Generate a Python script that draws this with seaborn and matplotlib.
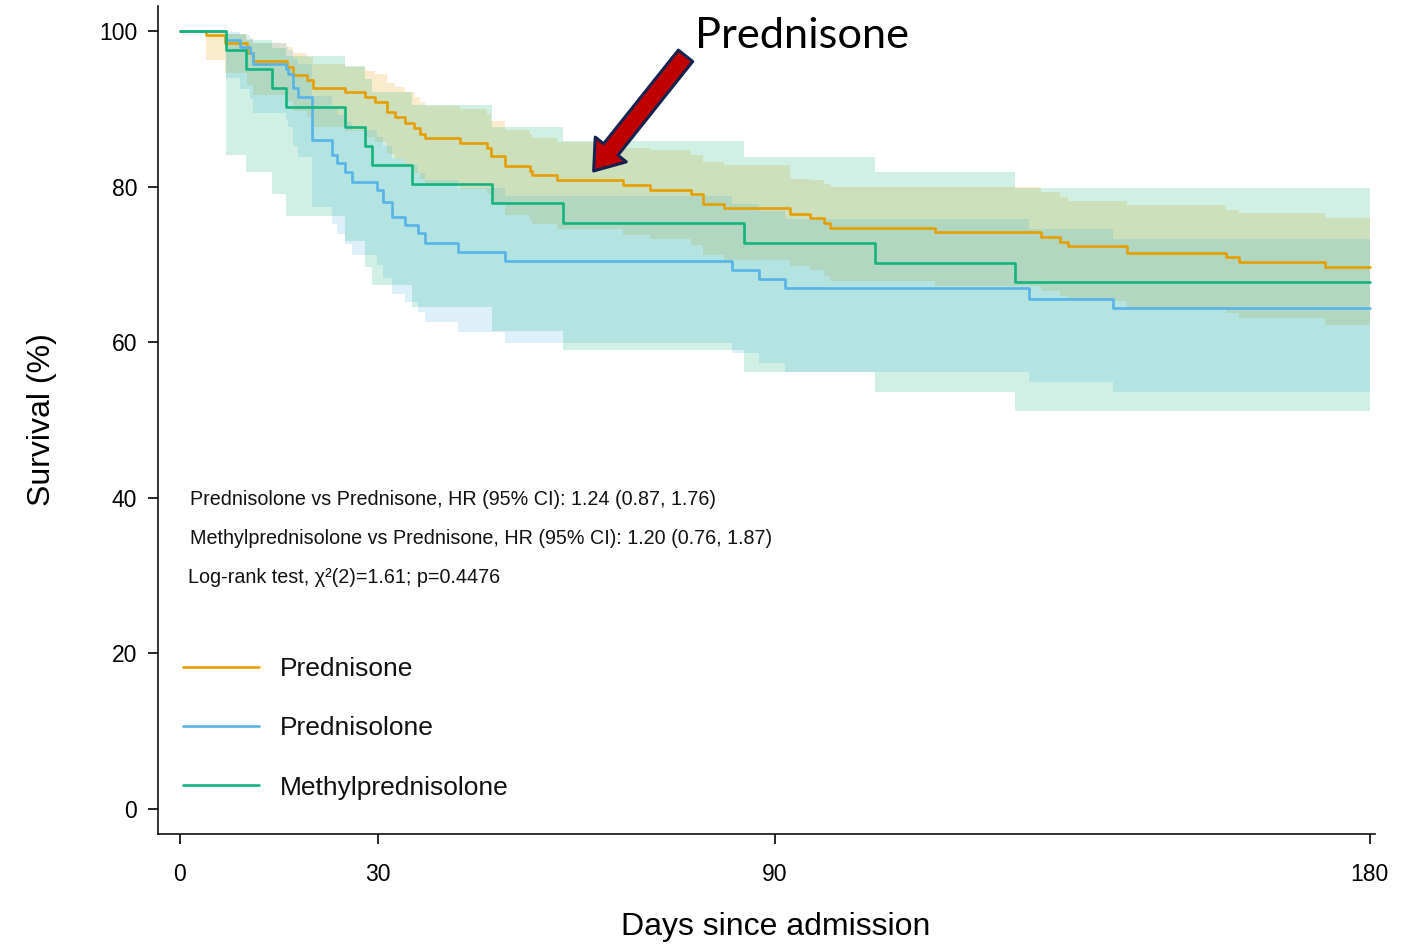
import numpy as np
import pandas as pd
import matplotlib
matplotlib.use("Agg")
import matplotlib.pyplot as plt
import seaborn as sns

# ---------------- data ----------------
groups = ["Prednisone", "Prednisolone", "Methylprednisolone"]
follow_up_end = 180

pred_time = [0, 3.9, 6.8, 10.2, 11.0, 16.2, 17.1, 19.2, 20.2, 25.0, 28.0, 29.5, 31.4, 32.6,
             34.1, 35.5, 36.4, 37.1, 42.4, 46.4, 47.0, 49.2, 53.0, 53.3, 57.1, 67.1, 71.2,
             77.3, 79.2, 82.3, 92.3, 95.3, 97.4, 98.3, 114.2, 130.2, 133.2, 134.3, 143.3,
             158.2, 160.2, 173.3]
pred_surv = [100, 99.5, 98.4, 97.2, 96.1, 95.4, 94.3, 93.7, 92.6, 92.1, 91.5, 90.9, 89.6, 89.0,
             88.2, 87.5, 86.8, 86.2, 85.6, 85.0, 83.9, 82.6, 82.0, 81.5, 80.8, 80.2, 79.6,
             79.0, 77.8, 77.2, 76.5, 76.0, 75.3, 74.7, 74.1, 73.5, 72.9, 72.3, 71.5,
             70.9, 70.3, 69.7]
pred_lo = [100, 96.3, 94.6, 93.0, 91.8, 91.0, 89.7, 89.0, 87.7, 87.1, 86.4, 85.7, 84.2, 83.5,
           82.6, 81.8, 81.0, 80.4, 79.7, 79.0, 77.8, 76.4, 75.7, 75.2, 74.5, 73.8, 73.2,
           72.5, 71.2, 70.6, 69.8, 69.3, 68.5, 67.9, 67.2, 66.6, 65.9, 65.3, 64.4,
           63.8, 63.1, 62.2]
pred_hi = [100, 99.9, 99.6, 99.0, 98.4, 97.9, 97.1, 96.7, 95.8, 95.4, 94.9, 94.4, 93.3, 92.8,
           92.1, 91.5, 90.9, 90.4, 89.9, 89.3, 88.4, 87.3, 86.8, 86.3, 85.7, 84.9, 84.7,
           84.1, 83.1, 82.8, 81.0, 80.8, 80.3, 80.0, 79.9, 79.3, 78.7, 78.2, 77.6,
           77.0, 76.6, 76.0]

plon_time = [0, 7.0, 9.1, 10.6, 11.1, 16.0, 16.4, 17.1, 17.9, 20.0, 23.0, 23.8, 25.0, 26.1,
             29.8, 30.8, 32.1, 34.1, 36.1, 37.1, 42.1, 49.2, 83.5, 87.6, 91.5, 128.5, 141.2]
plon_surv = [100, 98.8, 97.9, 97.1, 95.8, 95.1, 94.5, 92.6, 91.5, 86.0, 84.1, 83.0, 81.9, 80.6,
             79.5, 78.0, 76.1, 75.1, 74.0, 72.8, 71.6, 70.4, 69.3, 68.1, 66.9, 65.6, 64.4]
plon_lo = [100, 94.0, 92.5, 91.2, 89.4, 88.5, 87.6, 85.2, 83.8, 77.4, 75.2, 73.9, 72.6, 71.2,
           69.9, 68.3, 66.2, 65.1, 63.9, 62.6, 61.3, 59.9, 58.6, 57.3, 56.2, 54.9, 53.6]
plon_hi = [100, 99.8, 99.5, 99.1, 98.4, 98.0, 97.6, 96.4, 95.7, 91.6, 90.1, 89.2, 88.3, 87.3,
           86.4, 85.2, 83.6, 82.8, 81.8, 80.8, 79.8, 78.8, 77.8, 76.8, 75.8, 74.6, 73.3]

meth_time = [0, 7.0, 10.0, 13.9, 16.1, 25.0, 28.0, 29.0, 35.1, 47.2, 58.0, 85.3, 105.2, 126.4]
meth_surv = [100, 97.6, 95.1, 92.6, 90.2, 87.7, 85.2, 82.8, 80.3, 77.9, 75.3, 72.7, 70.2, 67.7]
meth_lo = [100, 84.1, 81.9, 79.1, 76.2, 73.0, 69.7, 67.4, 64.5, 61.5, 59.0, 56.2, 53.6, 51.1]
meth_hi = [100, 99.6, 98.8, 97.8, 96.8, 95.5, 93.8, 92.2, 90.5, 87.7, 85.8, 83.8, 81.9, 79.8]

x_ticks = [0, 30, 90, 180]
y_ticks = [0, 20, 40, 60, 80, 100]

stats_lines = [
    "Prednisolone vs Prednisone, HR (95% CI): 1.24 (0.87, 1.76)",
    "Methylprednisolone vs Prednisone, HR (95% CI): 1.20 (0.76, 1.87)",
    "Log-rank test, \u03c7\u00b2(2)=1.61; p=0.4476",
]

# ---------------- styling ----------------
sns.set_style("ticks")
plt.rcParams["font.family"] = ["Liberation Sans", "DejaVu Sans"]
plt.rcParams["text.color"] = "black"
plt.rcParams["axes.labelcolor"] = "black"
plt.rcParams["xtick.color"] = "black"
plt.rcParams["ytick.color"] = "black"

colors = {"Prednisone": "#E69F00", "Prednisolone": "#56B4E9", "Methylprednisolone": "#14B47E"}

def build(name, t, s, lo, hi):
    t = list(t) + [follow_up_end]
    s = list(s) + [s[-1]]
    lo = list(lo) + [lo[-1]]
    hi = list(hi) + [hi[-1]]
    return pd.DataFrame({"group": name, "time": t, "surv": s, "lo": lo, "hi": hi})

df = pd.concat([
    build("Prednisone", pred_time, pred_surv, pred_lo, pred_hi),
    build("Prednisolone", plon_time, plon_surv, plon_lo, plon_hi),
    build("Methylprednisolone", meth_time, meth_surv, meth_lo, meth_hi),
], ignore_index=True)

fig = plt.figure(figsize=(14.22, 9.46), dpi=100)
ax = fig.add_axes([158 / 1422, 1 - 834 / 946, (1375 - 158) / 1422, (834 - 6) / 946])

for g in groups:
    d = df[df.group == g]
    ax.fill_between(d.time, d.lo, d.hi, step="post", color=colors[g], alpha=0.2, lw=0)

sns.lineplot(data=df, x="time", y="surv", hue="group", hue_order=groups, palette=colors,
             estimator=None, units="group", drawstyle="steps-post", linewidth=1.9, ax=ax,
             legend=True)

ax.set_xlim(-3.3, 180.8)
ax.set_ylim(-3.2, 103.2)
ax.set_xticks(x_ticks)
ax.set_yticks(y_ticks)
ax.tick_params(axis="both", labelsize=16.5, length=7, width=1.2, color="black",
               labelcolor="black")
ax.tick_params(axis="x", pad=14)
ax.tick_params(axis="y", pad=8)
sns.despine(ax=ax)
for sp in ["left", "bottom"]:
    ax.spines[sp].set_linewidth(1.2)
    ax.spines[sp].set_color("#111111")

ax.set_xlabel("Days since admission", fontsize=23)
ax.set_ylabel("Survival (%)", fontsize=23, labelpad=30)
ax.xaxis.set_label_coords((776 - 158) / (1375 - 158), -(927 - 834) / 828, transform=ax.transAxes)
ax.xaxis.label.set_va("center")

# stats annotation
for txt, yv, xv in zip(stats_lines, [39.8, 34.8, 29.8], [1.5, 1.5, 1.2]):
    ax.text(xv, yv, txt, fontsize=14.25, va="center", ha="left", color="#111111")

# legend
handles, labels = ax.get_legend_handles_labels()
leg = ax.legend(handles, labels, loc="upper left", frameon=False, fontsize=19,
                handlelength=2.85, handletextpad=0.8, labelspacing=1.33, borderpad=0,
                borderaxespad=0, bbox_to_anchor=(0.55, 19.5), bbox_transform=ax.transData)
for line in leg.get_lines():
    line.set_linewidth(1.9)
for t in leg.get_texts():
    t.set_color("#111111")

# arrow + label
ax.annotate("", xy=(62.6, 82.0), xytext=(76.5, 96.8), xycoords="data",
            arrowprops=dict(arrowstyle="simple,head_length=0.9,head_width=1.3,tail_width=0.6",
                            fc="#C00000", ec="#14234f", lw=2.2, mutation_scale=22,
                            shrinkA=0, shrinkB=0))
ax.text(77.9, 99.3, "Prednisone", fontsize=31.2, va="center", ha="left",
        family=["Lato", "DejaVu Sans"], color="#000000", clip_on=False)

fig.savefig("out.png", dpi=100)
